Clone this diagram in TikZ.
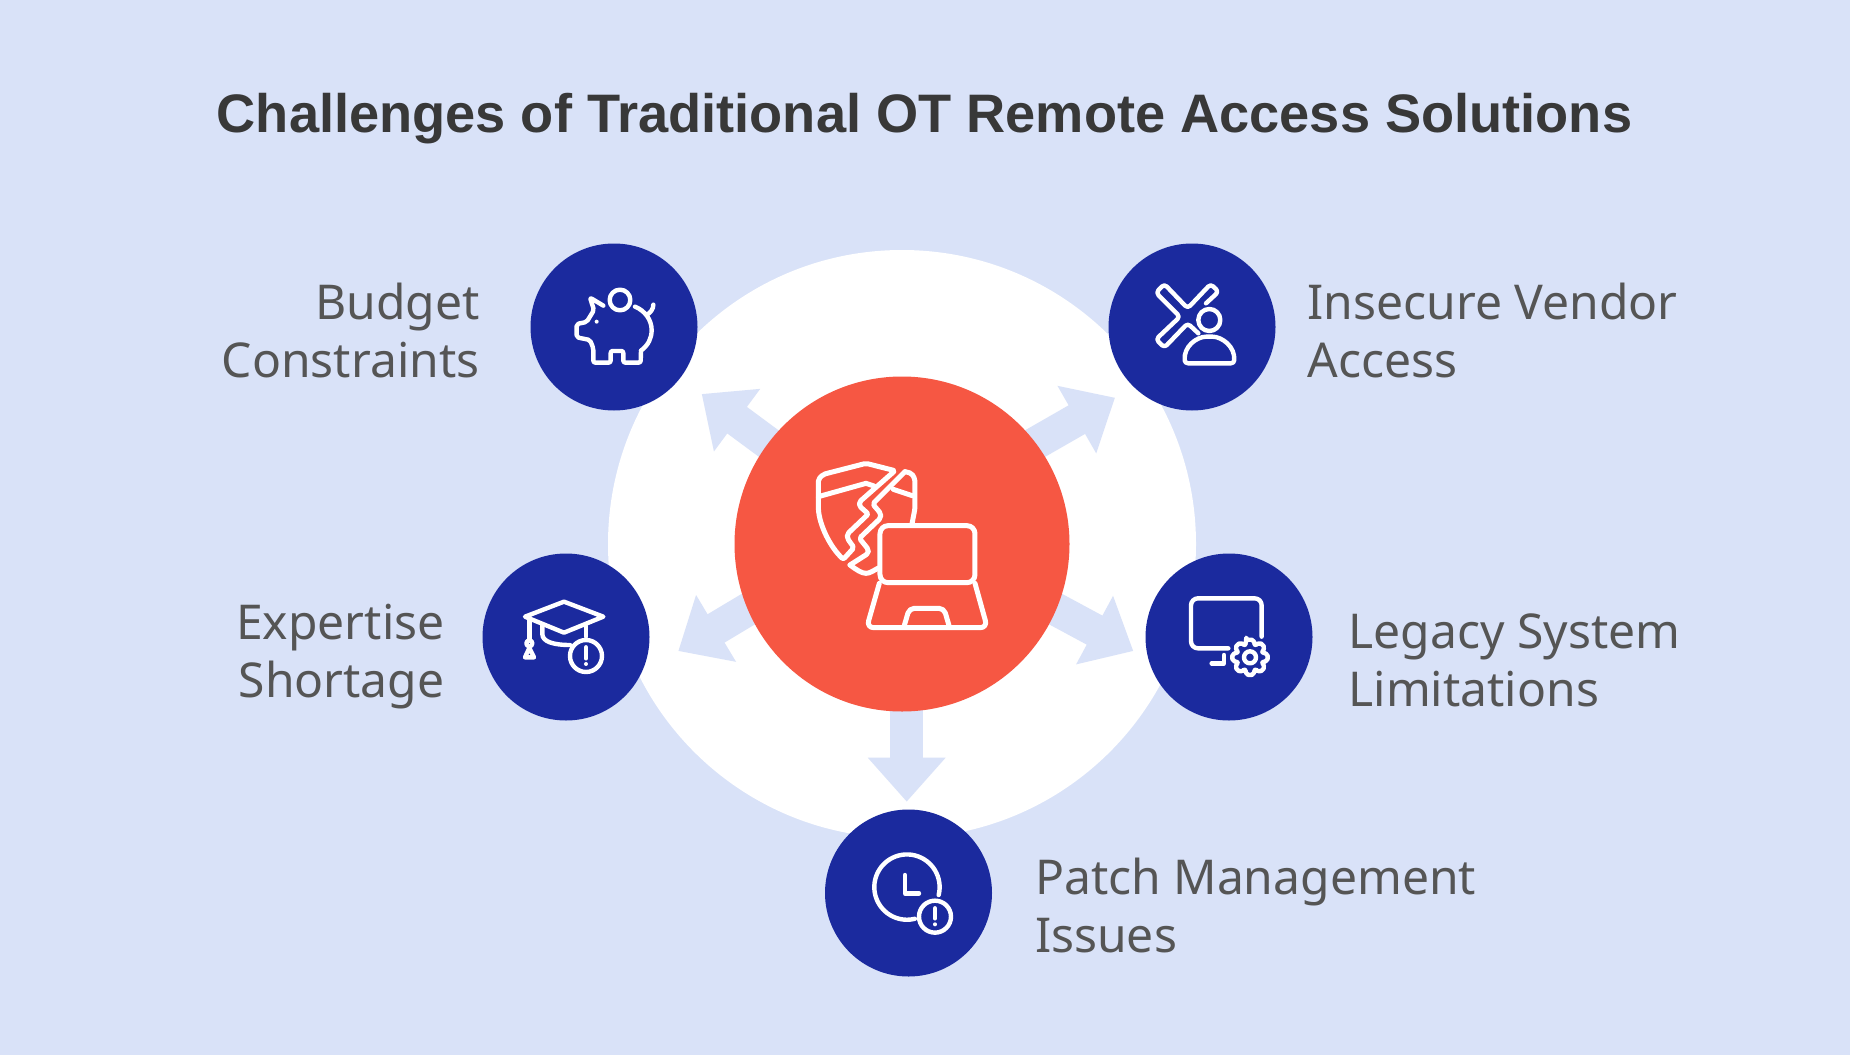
\documentclass[tikz,border=0pt]{standalone}
\usepackage{fontspec}
\setmainfont{Noto Sans}
\newfontfamily\titlefont{Liberation Sans}
\usetikzlibrary{arrows.meta,backgrounds,calc}
\definecolor{paleblue}{HTML}{D9E2F8}
\definecolor{hubred}{HTML}{F65743}
\definecolor{deepblue}{HTML}{1B2A9E}
\definecolor{titlegrey}{HTML}{383838}
\definecolor{labelgrey}{HTML}{555555}
\tikzset{
  hubdisc/.style={circle,fill=hubred,minimum size=335pt,inner sep=0pt},
  ringdisc/.style={circle,fill=white,minimum size=588pt,inner sep=0pt},
  badge/.style={circle,fill=deepblue,minimum size=167pt,inner sep=0pt},
  spoke/.style={draw=paleblue,line width=33pt,line cap=butt,shorten <=-12pt,
    -{Triangle[length=44pt,width=75pt]}},
  lbl/.style={text=labelgrey,font=\fontsize{48}{58}\selectfont},
  icon/.style={draw=white,line width=4.4pt,fill=none},
  hubicon/.style={draw=white,line width=5pt,fill=none},
}
\begin{document}
\begin{tikzpicture}[x=1pt,y=-1pt,line cap=round,line join=round]
  \useasboundingbox (0,0) rectangle (1850,1055);

  %--- hub and badges ------------------------------------------------------
  \node[hubdisc] (hub) at (902,544) {};
  \node[badge] (budget) at (614,327) {};
  \node[badge] (vendor) at (1192,327) {};
  \node[badge] (expertise) at (566,637) {};
  \node[badge] (legacy) at (1229,637) {};
  \node[badge] (patch) at (908.5,893) {};

  %--- arrow tips ----------------------------------------------------------
  \coordinate (tipbudget) at (701.7,394);
  \coordinate (tipvendor) at (1115,397.7);
  \coordinate (tipexpertise) at (678.3,651);
  \coordinate (tiplegacy) at (1133.3,651);
  \coordinate (tippatch) at (906.7,801.7);

  %--- page, white ring and arrows go under the hub -------------------------
  \begin{scope}[on background layer]
    \fill[paleblue] (0,0) rectangle (1850,1055);
    \node[ringdisc] (ring) at (hub) {};
    \draw[spoke] (hub.143) -- (tipbudget);
    \draw[spoke] (hub.37) -- (tipvendor);
    \draw[spoke] (hub.203.5) -- (tipexpertise);
    \draw[spoke] (hub.337.7) -- (tiplegacy);
    \draw[spoke] (hub.south -| tippatch) -- (tippatch);
  \end{scope}

  %--- texts ---------------------------------------------------------------
  \node[text=titlegrey,font=\titlefont\fontsize{54.2}{60}\selectfont\bfseries] (title) at (924.5,118.5)
    {Challenges of Traditional OT Remote Access Solutions};
  \node[lbl,align=right,anchor=east] (budgetlbl) at (483,330) {Budget\\Constraints};
  \node[lbl,align=left,anchor=west] (vendorlbl) at (1304,330) {Insecure Vendor\\Access};
  \node[lbl,align=right,anchor=east] (expertiselbl) at (448,657) {Expertise\\Shortage};
  \node[lbl,align=left,anchor=west] (legacylbl) at (1345,660) {Legacy System\\Limitations};
  \node[lbl,align=left,anchor=west] (patchlbl) at (1031.5,905) {Patch Management\\Issues};

  %--- hub icon: broken shield and laptop ----------------------------------
  \begin{scope}[shift={(780,430)},scale=0.3333]
    \draw[hubicon,rounded corners=2pt] (345,122) -- (258,100) -- (130,133) -- (115,148) -- (115,232)
      .. controls (118,285) and (150,350) .. (190,388)
      -- (222,353) -- (202,325) -- (202,312) -- (265,252) -- (238,228) -- (238,216) -- cycle;
    \draw[hubicon] (115,200) -- (258,160) -- (282,168);
    \draw[hubicon,rounded corners=2pt] (375,125) -- (395,130) -- (405,148) -- (405,235) -- (396,282);
    \draw[hubicon,rounded corners=2pt] (375,125) -- (278,222) -- (302,250) -- (302,264) -- (238,325)
      -- (265,358) -- (265,370) -- (210,405);
    \draw[hubicon] (210,405) .. controls (230,420) and (245,430) .. (258,430)
      .. controls (270,430) and (280,422) .. (295,414);
    \draw[hubicon] (340,178) -- (397,197);
    \draw[hubicon,rounded corners=8pt] (300,458) -- (300,287) -- (585,287) -- (585,458) -- cycle;
    \draw[hubicon,rounded corners=7pt] (298,460) -- (260,593) -- (622,593) -- (585,460);
    \draw[hubicon,rounded corners=5pt] (372,590) -- (388,535) -- (492,535) -- (508,590);
  \end{scope}

  %--- piggy bank ----------------------------------------------------------
  \begin{scope}[shift={(540,250)},scale=0.3333]
    \draw[icon] (240,150) circle (31);
    \draw[icon,rounded corners=2pt] (190,167) -- (150,143) -- (162,180) -- (140,216) -- (110,222)
      -- (110,262) -- (150,270) -- (160,295) -- (160,338) -- (212,338) -- (212,303) -- (250,303)
      -- (250,338) -- (302,338) -- (303,302);
    \draw[icon] (303,302) .. controls (325,285) and (335,265) .. (335,240)
      .. controls (335,210) and (315,182) .. (285,170);
    \draw[icon] (320,195) .. controls (332,187) and (340,178) .. (340,164);
    \fill[white] (170,215) circle (6);
  \end{scope}

  %--- cross and person ----------------------------------------------------
  \begin{scope}[shift={(1120,250)},scale=0.3333]
    \draw[icon,rounded corners=3.5pt] (258,160) -- (296,125) -- (272,102) -- (203,175) -- (133,102)
      -- (108,128) -- (180,200) -- (108,268) -- (133,293) -- (203,220) -- (235,250);
    \draw[icon] (268,210) circle (33);
    \draw[icon,rounded corners=3pt] (195,340) .. controls (190,290) and (230,260) .. (268,260)
      .. controls (306,260) and (346,290) .. (342,340) -- cycle;
  \end{scope}

  %--- cap with alert ------------------------------------------------------
  \begin{scope}[shift={(490,560)},scale=0.3333]
    \draw[icon] (105,170) -- (222,125) -- (340,170) -- (222,218) -- cycle;
    \draw[icon] (118,175) -- (118,240);
    \draw[icon] (118,250) circle (9);
    \draw[icon] (105,292) -- (132,292) -- (118,264) -- cycle;
    \draw[icon] (157,195) -- (157,222) .. controls (157,245) and (190,255) .. (240,255);
    \draw[icon] (288,198) -- (288,230);
    \draw[icon] (288,288) circle (48);
    \draw[icon] (288,262) -- (288,295);
    \fill[white] (288,312) circle (6);
  \end{scope}

  %--- screen with gear ----------------------------------------------------
  \begin{scope}[shift={(1155,560)},scale=0.3333]
    \draw[icon,rounded corners=7pt] (320,230) -- (320,115) -- (108,115) -- (108,265) -- (220,265);
    \draw[icon] (207,285) -- (207,310) -- (170,310);
    \draw[icon,rounded corners=2pt] ($(285,292)+(-102:54)$)
      \foreach \a in {0,45,...,315} {
        -- ($(285,292)+(\a-90-12:54)$) -- ($(285,292)+(\a-90+12:54)$)
        -- ($(285,292)+(\a-90+18:41)$) -- ($(285,292)+(\a-90+27:41)$)
      } -- cycle;
    \draw[icon] (285,292) circle (18);
  \end{scope}

  %--- clock with alert ----------------------------------------------------
  \begin{scope}[shift={(835,820)},scale=0.3333]
    \draw[icon] (311,225) arc (14:-284:98);
    \draw[icon] (210,165) -- (210,220) -- (252,220);
    \draw[icon] (300,290) circle (48);
    \draw[icon] (300,265) -- (300,295);
    \fill[white] (300,313) circle (6);
  \end{scope}
\end{tikzpicture}
\end{document}
